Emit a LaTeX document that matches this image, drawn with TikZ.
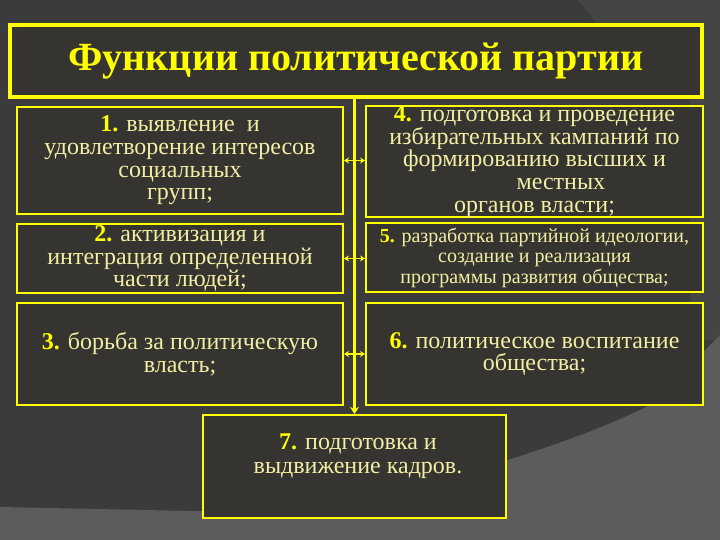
\documentclass[tikz,border=0pt]{standalone}
\usepackage{fontspec}
\setmainfont{Liberation Serif}
\usetikzlibrary{arrows.meta}
\definecolor{bgdark}{HTML}{3B3B3B}
\definecolor{bglight}{HTML}{5C5C5C}
\definecolor{bgmid}{HTML}{454545}
\definecolor{boxfill}{HTML}{363430}
\definecolor{ylw}{HTML}{FFFF00}
\definecolor{txt}{HTML}{F2EEA4}
\tikzset{
  fbox/.style={draw=ylw, line width=2pt, fill=boxfill, text=txt, align=center, inner sep=0pt, font=\fontsize{24}{22.7}\selectfont},
  conn/.style={draw=ylw, line width=1.6pt, {Stealth[length=5pt,width=6pt]}-{Stealth[length=5pt,width=6pt]}},
  spine/.style={draw=ylw, line width=3pt, -{Stealth[length=7pt,width=9pt]}},
}
\newcommand{\nb}[1]{\textbf{\color{ylw}#1}}
\begin{document}
\begin{tikzpicture}[x=1pt,y=-1pt]
\useasboundingbox (0,0) rectangle (720,540);
\fill[bgdark] (0,0) rectangle (720,540);
\fill[bgmid] (578,0) -- (720,0) -- (720,340) -- (690,340) -- (690,27) -- (600,27) .. controls (592,18) .. (578,0) -- cycle;
\fill[bglight] (0,507) -- (240,512) -- (400,490) -- (508,460) .. controls (570,440) and (610,425) .. (650,405) -- (720,335) -- (720,540) -- (0,540) -- cycle;

\node[fbox, line width=4pt, minimum width=692pt, minimum height=72pt, text=ylw, font=\fontsize{40}{42}\selectfont\bfseries] (title) at (356,61) {Функции политической партии};

\node[fbox, minimum width=326pt, minimum height=107pt] (b1) at (180,160.5)
  {\nb{1.} выявление \ и\\удовлетворение интересов\\социальных\\групп;};
\node[fbox, minimum width=337pt, minimum height=111pt] (b4) at (534.5,161.5)
  {\nb{4.} подготовка и проведение\\избирательных кампаний по\\формированию высших и\\\hspace*{2.2em}местных\\органов власти;};
\node[fbox, minimum width=326pt, minimum height=69pt] (b2) at (180,258.5)
  {\nb{2.} активизация и\\интеграция определенной\\части людей;};
\node[fbox, minimum width=337pt, minimum height=69pt, font=\fontsize{20}{20.5}\selectfont] (b5) at (534.5,257.5)
  {\nb{5.} разработка партийной идеологии,\\создание и реализация\\программы развития общества;};
\node[fbox, minimum width=326pt, minimum height=102pt] (b3) at (180,354)
  {\nb{3.} борьба за политическую\\власть;};
\node[fbox, minimum width=337pt, minimum height=102pt] (b6) at (534.5,354)
  {\nb{6.} политическое воспитание\\общества;};
\node[fbox, minimum width=303pt, minimum height=103pt] (b7) at (354.5,466.5) {};
\node[text=txt, align=center, font=\fontsize{24}{24}\selectfont] (t7) at (358,456)
  {\nb{7.} подготовка и\\выдвижение кадров.};

\draw[spine] (title.south -| b7.north) -- (b7.north);
\draw[conn] (b1.east) -- (b1.east -| b4.west);
\draw[conn] (b2.east) -- (b2.east -| b5.west);
\draw[conn] (b3.east) -- (b3.east -| b6.west);
\end{tikzpicture}
\end{document}
